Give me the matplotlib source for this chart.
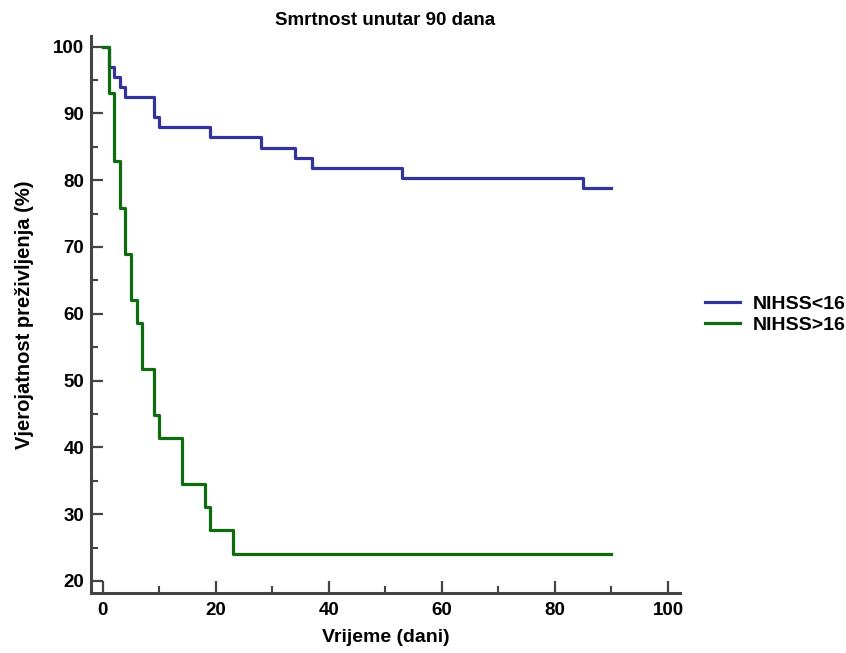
import matplotlib
matplotlib.use("Agg")
import matplotlib.pyplot as plt
from matplotlib.ticker import MultipleLocator

plt.rcParams['font.family'] = ['Liberation Sans', 'DejaVu Sans']

# Kaplan-Meier steps
t_low = [0, 1, 2, 3, 4, 9, 10, 19, 28, 34, 37, 53, 85, 90]
s_low = [100, 97.0, 95.5, 93.9, 92.4, 89.4, 87.9, 86.4, 84.8, 83.3, 81.8, 80.3, 78.8, 78.8]

t_high = [0, 1, 2, 3, 4, 5, 6, 7, 9, 10, 14, 18, 19, 23, 90]
s_high = [100, 93.1, 82.8, 75.9, 69.0, 62.1, 58.6, 51.7, 44.8, 41.4, 34.5, 31.0, 27.6, 24.1, 24.1]

labels = ["NIHSS<16", "NIHSS>16"]
colors = ["#333399", "#0e6b0e"]

fig = plt.figure(figsize=(8.46, 6.53), dpi=100)
ax = fig.add_axes([0.1076, 0.092, 0.696, 0.853])

ax.step(t_low, s_low, where='post', color=colors[0], lw=2.3, label=labels[0])
ax.step(t_high, s_high, where='post', color=colors[1], lw=2.3, label=labels[1])

ax.set_xlim(-2.1, 102.1)
ax.set_ylim(18.2, 101.6)
ax.xaxis.set_major_locator(MultipleLocator(20))
ax.xaxis.set_minor_locator(MultipleLocator(10))
ax.yaxis.set_major_locator(MultipleLocator(10))
ax.yaxis.set_minor_locator(MultipleLocator(5))

for s in ['top', 'right']:
    ax.spines[s].set_visible(False)
for s in ['left', 'bottom']:
    ax.spines[s].set_color('#444444')
    ax.spines[s].set_linewidth(2.2)

ax.tick_params(which='major', direction='in', length=8.6, width=1.6, color='#444444',
               labelsize=13.5)
ax.tick_params(which='minor', direction='in', length=5, width=1.5, color='#444444')
ax.tick_params(axis='y', which='major', pad=5)
ax.tick_params(axis='x', which='major', pad=6.5)
for lab in ax.get_xticklabels() + ax.get_yticklabels():
    lab.set_fontweight('bold')

ax.set_title("Smrtnost unutar 90 dana", fontsize=13.5, fontweight='bold', pad=8)
ax.set_xlabel("Vrijeme (dani)", fontsize=14, fontweight='bold', labelpad=7)
ax.set_ylabel("Vjerojatnost preživljenja (%)", fontsize=14.5, fontweight='bold', labelpad=14)

leg = fig.legend(loc='center left', bbox_to_anchor=(0.833, 0.518), frameon=False,
                 prop={'size': 14, 'weight': 'bold'}, handlelength=1.8, handletextpad=0.65,
                 labelspacing=0.2, borderpad=0, borderaxespad=0)

fig.savefig("out.png", dpi=100)
